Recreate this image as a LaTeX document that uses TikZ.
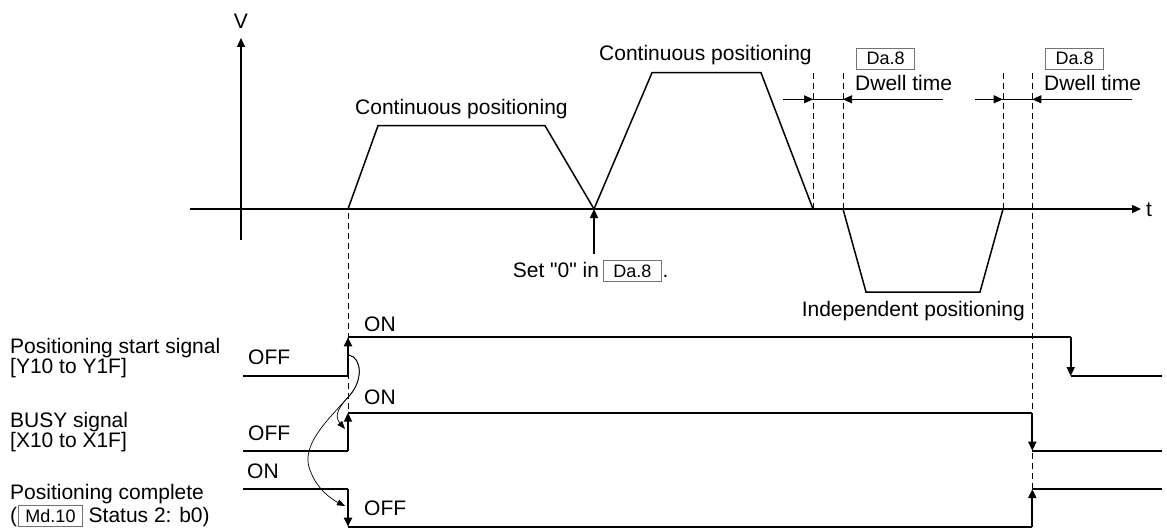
\documentclass[tikz,border=0pt]{standalone}
\usepackage{fontspec}
\setmainfont{Liberation Sans}[Ligatures=TeXOff]
\usetikzlibrary{arrows.meta}
\definecolor{boxgray}{gray}{0.45}
\newcommand\bx[2][6pt]{{\fontsize{18}{20}\selectfont\setlength\fboxsep{3.5pt}\setlength\fboxrule{0.8pt}\fcolorbox{boxgray}{white}{\hspace{#1}#2\hspace{#1}}}}
\tikzset{
  txt/.style={inner sep=0pt, font=\fontsize{21}{20}\selectfont},
  sig/.style={line width=1.8pt},
  ax/.style={line width=1.2pt},
  prof/.style={line width=1.5pt, line join=miter},
  dsh/.style={line width=0.9pt, dash pattern=on 6pt off 4pt},
  tip/.style={-{Triangle[length=9pt,width=8pt]}},
  ctip/.style={-{Triangle[length=8pt,width=6pt]}},
  thinc/.style={line width=0.7pt}
}
\begin{document}
\begin{tikzpicture}[x=1pt,y=-1pt]
\useasboundingbox (0,0) rectangle (1167,532);
% axes
\draw[ax,tip] (241,240) -- (241,38);
\node[txt,anchor=base] (V) at (241,29) {V};
\draw[ax,tip] (190,209) -- (1141,209);
\node[txt,anchor=base west] (t) at (1146,216) {t};
% velocity profile
\draw[prof] (348,209) -- (378,125.7) -- (545,125.7) -- (594,209) -- (652,72.7) -- (761,72.7) -- (813,209) -- (843,209) -- (866,292) -- (980,292) -- (1003,209) -- (1032,209);
\node[txt,anchor=base west] (cp1) at (355,115) {Continuous positioning};
\node[txt,anchor=base west] (cp2) at (599,61) {Continuous positioning};
\node[txt,anchor=base east] (ip) at (1025,316.7) {Independent positioning};
% set 0
\draw[ax,tip] (594,254) -- (594,209);
\node[txt,anchor=base west] (set0) at (512.7,277.3) {Set "0" in\kern4pt\bx{Da.8}\kern1pt.};
% dashed lines
\draw[dsh] (348,213) -- (348,412.7);
\draw[dsh] (813,73) -- (813,209);
\draw[dsh] (843,73) -- (843,209);
\draw[dsh] (1003,73) -- (1003,209);
\draw[dsh] (1032.3,73) -- (1032.3,489);
% dwell arrows
\draw[thinc] (783,99.3) -- (943,99.3);
\draw[thinc,tip] (783,99.3) -- (813,99.3);
\draw[thinc,tip] (943,99.3) -- (843,99.3);
\draw[thinc] (975,99.3) -- (1131.7,99.3);
\draw[thinc,tip] (975,99.3) -- (1002.7,99.3);
\draw[thinc,tip] (1131.7,99.3) -- (1032.3,99.3);
\node[txt,anchor=base west] (da1) at (856,65) {\bx{Da.8}};
\node[txt,anchor=base west] (dw1) at (855,90.7) {Dwell time};
\node[txt,anchor=base west] (da2) at (1045,65) {\bx{Da.8}};
\node[txt,anchor=base west] (dw2) at (1044,90.7) {Dwell time};
% signal labels (base = last line)
\node[txt,anchor=base west,align=left] (l1) at (10,373.5) {Positioning start signal\\{[Y10 to Y1F]}};
\node[txt,anchor=base west,align=left] (l2) at (10,447) {BUSY signal\\{[X10 to X1F]}};
\node[txt,anchor=base west,align=left] (l3) at (10,522) {Positioning complete\\(\kern1pt\bx[3pt]{Md.10} Status 2: b0)};
% start signal
\draw[sig] (243,376) -- (348,376);
\draw[sig,tip] (348,376) -- (348,337.3);
\draw[sig] (348,337.3) -- (1070.7,337.3);
\draw[sig,tip] (1070.7,337.3) -- (1070.7,376);
\draw[sig] (1070.7,376) -- (1162,376);
\node[txt,anchor=base west] (off1) at (248,364) {OFF};
\node[txt,anchor=base west] (on1) at (364,331) {ON};
% busy
\draw[sig] (243,450.7) -- (348,450.7);
\draw[sig,tip] (348,450.7) -- (348,412.7);
\draw[sig] (348,412.7) -- (1032.3,412.7);
\draw[sig,tip] (1032.3,412.7) -- (1032.3,450.7);
\draw[sig] (1032.3,450.7) -- (1162,450.7);
\node[txt,anchor=base west] (off2) at (248,440) {OFF};
\node[txt,anchor=base west] (on2) at (364,404) {ON};
% positioning complete
\draw[sig] (243,489) -- (348,489);
\draw[sig,tip] (348,489) -- (348,526.7);
\draw[sig] (348,526.7) -- (1032.3,526.7);
\draw[sig,tip] (1032.3,526.7) -- (1032.3,489);
\draw[sig] (1032.3,489) -- (1162,489);
\node[txt,anchor=base west] (on3) at (247,478) {ON};
\node[txt,anchor=base west] (off3) at (364,515.5) {OFF};
% curves
\coordinate (cs) at (349,355);
\draw[thinc,ctip] (cs) .. controls (362,358) and (363,380) .. (350,395) .. controls (340,406) and (333,415) .. (345,429);
\draw[thinc,ctip] (cs) .. controls (362,358) and (363,380) .. (350,395) .. controls (328,420) and (300,445) .. (310,470) .. controls (317,490) and (333,500) .. (345,506);
\end{tikzpicture}
\end{document}
